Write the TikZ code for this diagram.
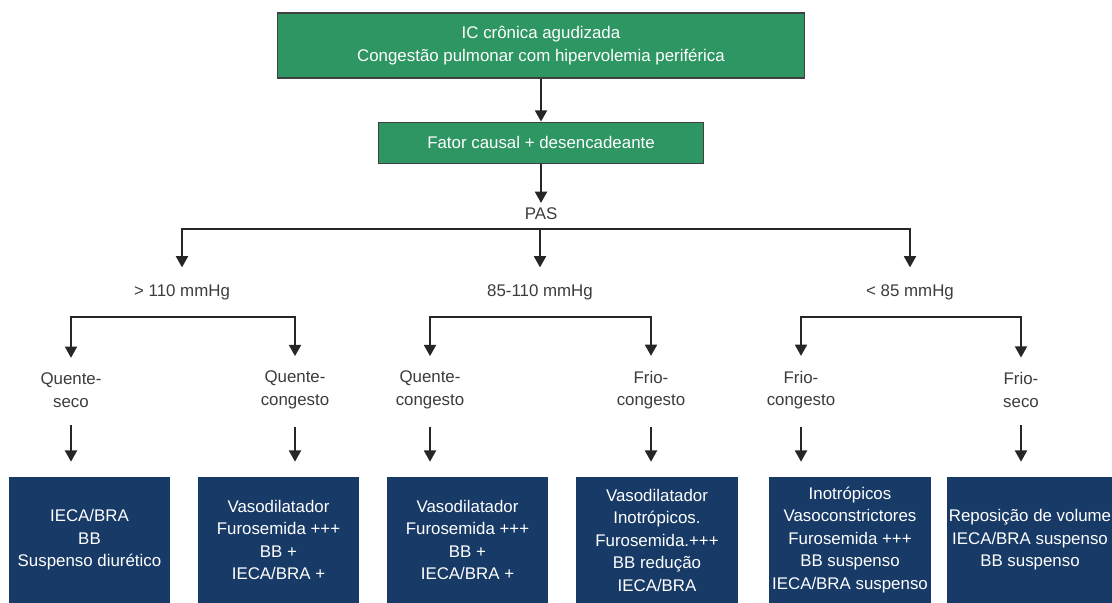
\documentclass[tikz,border=0pt]{standalone}
\usepackage{fontspec}
\setmainfont{Liberation Sans}
\usetikzlibrary{arrows.meta, positioning}
\definecolor{verde}{RGB}{46,150,98}
\definecolor{marinho}{RGB}{24,58,102}
\definecolor{tinta}{RGB}{60,60,60}

\begin{document}
\begin{tikzpicture}[
		x=0.025cm, y=-0.025cm,
		>={Triangle[width=0.3cm, length=0.28cm]},
		font=\fontsize{12}{16}\selectfont,
		topo/.style={draw=black!75, line width=0.8pt, fill=verde, text=white, align=center},
		conduta/.style={fill=marinho, text=white, align=center,
			minimum width=4.025cm, minimum height=3.15cm, inner sep=1pt},
		rotulo/.style={text=tinta, align=center},
		arr/.style={->, line width=1.3pt, black!85},
		brk/.style={<->, line width=1.3pt, black!85, shorten <=2.5mm, shorten >=2.5mm},
	]
		\useasboundingbox (0,0) rectangle (1112,603);
		\clip (0,0) rectangle (1112,603);

		% Top boxes
		\node[topo, minimum width=13.175cm, minimum height=1.625cm] (ic) at (541,45.5)
			{IC crônica agudizada\\Congestão pulmonar com hipervolemia periférica};
		\node[topo, minimum width=8.125cm, minimum height=1.025cm, below=1.075cm of ic] (fator)
			{Fator causal + desencadeante};
		\node[rotulo, below=0.98cm of fator] (pas) {PAS};

		\draw[arr] (ic) -- (fator);
		\draw[arr] (fator) -- (pas);

		% PAS ranges
		\node[rotulo] (alta) at (182,292) {> 110 mmHg};
		\node[rotulo] (media) at (540,292) {85-110 mmHg};
		\node[rotulo] (baixa) at (910,292) {< 85 mmHg};

		\coordinate (barra) at (540,229);
		\draw[brk, shorten <=3mm, shorten >=3mm] (alta.north) |- (barra) -| (baixa.north);
		\draw[arr, shorten >=3mm] (barra) -- (media.north);

		% Profiles
		\node[rotulo] (qseco) at (71,390) {Quente-\\seco};
		\node[rotulo] (qcong1) at (295,390) {Quente-\\congesto};
		\node[rotulo] (qcong2) at (430,390) {Quente-\\congesto};
		\node[rotulo] (fcong1) at (651,390) {Frio-\\congesto};
		\node[rotulo] (fcong2) at (801,390) {Frio-\\congesto};
		\node[rotulo] (fseco) at (1021,390) {Frio-\\seco};

		\coordinate (barra1) at (182,317);
		\coordinate (barra2) at (540,317);
		\coordinate (barra3) at (910,317);
		\draw[brk] (qseco.north) |- (barra1) -| (qcong1.north);
		\draw[brk] (qcong2.north) |- (barra2) -| (fcong1.north);
		\draw[brk] (fcong2.north) |- (barra3) -| (fseco.north);

		% Treatment boxes
		\node[conduta] (c1) at (89.5,540) {IECA/BRA\\BB\\Suspenso diurético};
		\node[conduta] (c2) at (278.5,540) {Vasodilatador\\Furosemida +++\\BB +\\IECA/BRA +};
		\node[conduta] (c3) at (467.5,540) {Vasodilatador\\Furosemida +++\\BB +\\IECA/BRA +};
		\node[conduta] (c4) at (657,540) {Vasodilatador\\Inotrópicos.\\Furosemida.+++\\BB redução\\IECA/BRA};
		\node[conduta] (c5) at (850,540) {Inotrópicos\\Vasoconstrictores\\Furosemida +++\\BB suspenso\\IECA/BRA suspenso};
		\node[conduta] (c6) at (1030,540) {Reposição de volume\\IECA/BRA suspenso\\BB suspenso};

		\draw[arr, shorten <=3.2mm, shorten >=3.75mm] (qseco.south) -- (qseco.south |- c1.north);
		\draw[arr, shorten <=3.2mm, shorten >=3.75mm] (qcong1.south) -- (qcong1.south |- c2.north);
		\draw[arr, shorten <=3.2mm, shorten >=3.75mm] (qcong2.south) -- (qcong2.south |- c3.north);
		\draw[arr, shorten <=3.2mm, shorten >=3.75mm] (fcong1.south) -- (fcong1.south |- c4.north);
		\draw[arr, shorten <=3.2mm, shorten >=3.75mm] (fcong2.south) -- (fcong2.south |- c5.north);
		\draw[arr, shorten <=3.2mm, shorten >=3.75mm] (fseco.south) -- (fseco.south |- c6.north);
	\end{tikzpicture}
\end{document}
